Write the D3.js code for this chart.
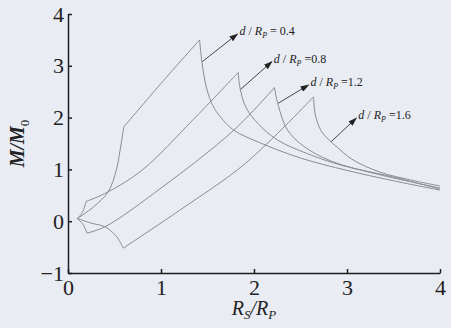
<!DOCTYPE html>
<html>
<head>
<meta charset="utf-8">
<script src="https://cdn.jsdelivr.net/npm/d3@7"></script>
<style>
  html, body { margin: 0; padding: 0; background: #e9ecf3; }
  svg { display: block; }
  .curve { fill: none; stroke: #8c8c92; stroke-width: 1; }
  .axis path, .axis line { stroke: #1e1e1e; stroke-width: 1.5; }
</style>
</head>
<body>
<div id="chart"></div>
<script>
const serif = "'Liberation Serif', 'Times New Roman', Times, serif";

// tick values
const xTicks = [0, 1, 2, 3, 4];
const yTicks = [-1, 0, 1, 2, 3, 4];

// d / Rp values of the four curves
const ratios = ["0.4", "0.8", "1.2", "1.6"];

// each curve: [cusp -> corner, corner -> peak, peak -> tail]
const curveD04 = [
    [[0.10, 0.05], [0.27, 0.27], [0.43, 0.56], [0.52, 0.99], [0.56, 1.37], [0.60, 1.82]],
    [[0.60, 1.82], [1.00, 2.66], [1.415, 3.50]],
    [[1.415, 3.50], [1.44, 3.07], [1.49, 2.57], [1.555, 2.24], [1.64, 2.01], [1.78, 1.76],
     [2.07, 1.51], [2.5, 1.22], [3.0, 0.98], [3.5, 0.78], [4.0, 0.60]]
];
const curveD08 = [
    [[0.10, 0.05], [0.155, 0.17], [0.195, 0.38]],
    [[0.195, 0.38], [0.43, 0.565], [0.80, 0.99], [1.34, 1.95], [1.83, 2.87]],
    [[1.83, 2.87], [1.85, 2.57], [1.91, 2.21], [2.04, 1.89], [2.25, 1.57], [2.58, 1.30],
     [2.94, 1.08], [3.48, 0.86], [4.0, 0.62]]
];
const curveD12 = [
    [[0.10, 0.05], [0.16, -0.06], [0.205, -0.23]],
    [[0.205, -0.23], [0.40, -0.105], [1.0, 0.64], [1.785, 1.76], [2.22, 2.58]],
    [[2.22, 2.58], [2.26, 2.24], [2.36, 1.76], [2.54, 1.44], [2.83, 1.16], [3.3, 0.92], [4.0, 0.64]]
];
const curveD16 = [
    [[0.10, 0.05], [0.256, -0.04], [0.40, -0.11], [0.51, -0.27], [0.56, -0.40], [0.594, -0.52]],
    [[0.594, -0.52], [1.2, 0.21], [1.91, 1.12], [2.64, 2.40]],
    [[2.64, 2.40], [2.66, 2.05], [2.72, 1.75], [2.8, 1.58], [2.9, 1.42], [3.05, 1.2],
     [3.35, 0.95], [3.7, 0.79], [4.0, 0.68]]
];

// label arrows: start on the curve, tip near the text
const arrowFrom = [[1.444, 3.08], [1.857, 2.546], [2.26, 2.276], [2.83, 1.535]];
const arrowTo = [[1.822, 3.614], [2.192, 3.08], [2.586, 2.63], [3.10, 1.99]];

const width = 451, height = 328;
const margin = { top: 14, right: 11, bottom: 55, left: 68 };

const svg = d3.select("#chart").append("svg")
    .attr("width", width)
    .attr("height", height);

svg.append("defs").append("marker")
    .attr("id", "head")
    .attr("markerUnits", "userSpaceOnUse")
    .attr("markerWidth", 9)
    .attr("markerHeight", 6)
    .attr("refX", 8)
    .attr("refY", 3)
    .attr("orient", "auto")
    .append("path")
    .attr("d", "M0,0L9,3L0,6Z")
    .attr("fill", "#222");

const x = d3.scaleLinear().domain([0, 4]).range([margin.left, width - margin.right]);
const y = d3.scaleLinear().domain([-1, 4]).range([height - margin.bottom, margin.top]);

const line = d3.line()
    .x(d => x(d[0]))
    .y(d => y(d[1]))
    .curve(d3.curveCatmullRom.alpha(0.5));

[curveD04, curveD08, curveD12, curveD16].forEach(function(c) {
    svg.append("g").selectAll("path")
        .data(c)
        .enter().append("path")
        .attr("class", "curve")
        .attr("d", line);
});

// axes, ticks pointing inward
const fmt = d3.format("d");

svg.append("g")
    .attr("class", "axis")
    .attr("transform", `translate(${margin.left},0)`)
    .call(d3.axisLeft(y).tickValues(yTicks).tickFormat(fmt).tickSize(-4).tickSizeOuter(0).tickPadding(4))
    .attr("font-family", serif)
    .attr("font-size", 22);

svg.append("g")
    .attr("class", "axis")
    .attr("transform", `translate(0,${height - margin.bottom})`)
    .call(d3.axisBottom(x).tickValues(xTicks).tickFormat(fmt).tickSize(-4).tickSizeOuter(0).tickPadding(6))
    .attr("font-family", serif)
    .attr("font-size", 22);

svg.selectAll(".axis .tick line").attr("stroke-width", 1.2);
svg.selectAll(".axis text").attr("fill", "#222");

// axis titles
const xt = svg.append("text")
    .attr("x", x(2))
    .attr("y", 315)
    .attr("text-anchor", "middle")
    .attr("font-family", serif)
    .attr("font-size", 20)
    .attr("font-style", "italic")
    .attr("fill", "#222");
xt.append("tspan").text("R");
xt.append("tspan").attr("font-size", 13).attr("dy", 4).text("S");
xt.append("tspan").attr("dy", -4).text("/R");
xt.append("tspan").attr("font-size", 13).attr("dy", 4).text("P");

const yt = svg.append("text")
    .attr("transform", `translate(24,${y(1.5)}) rotate(-90)`)
    .attr("text-anchor", "middle")
    .attr("font-family", serif)
    .attr("font-size", 20)
    .attr("font-style", "italic")
    .attr("font-weight", "bold")
    .attr("fill", "#222");
yt.append("tspan").text("M/M");
yt.append("tspan").attr("font-size", 13).attr("font-style", "normal").attr("font-weight", "normal").attr("dy", 5).text("0");

// arrows and labels
ratios.forEach(function(r, i) {
    svg.append("line")
        .attr("x1", x(arrowFrom[i][0]))
        .attr("y1", y(arrowFrom[i][1]))
        .attr("x2", x(arrowTo[i][0]))
        .attr("y2", y(arrowTo[i][1]))
        .attr("stroke", "#333")
        .attr("stroke-width", 0.9)
        .attr("marker-end", "url(#head)");

    const t = svg.append("text")
        .attr("font-family", serif)
        .attr("font-size", 12)
        .attr("fill", "#222")
        .attr("x", x(arrowTo[i][0]) + 2)
        .attr("y", y(arrowTo[i][1]) + 1);
    t.append("tspan").attr("font-style", "italic").text("d");
    t.append("tspan").text(" / ");
    t.append("tspan").attr("font-style", "italic").text("R");
    t.append("tspan").attr("font-style", "italic").attr("font-size", 8).attr("dy", 3).text("P");
    t.append("tspan").attr("dy", -3).text(i === 0 ? " = " + r : " =" + r);
});
</script>
</body>
</html>
